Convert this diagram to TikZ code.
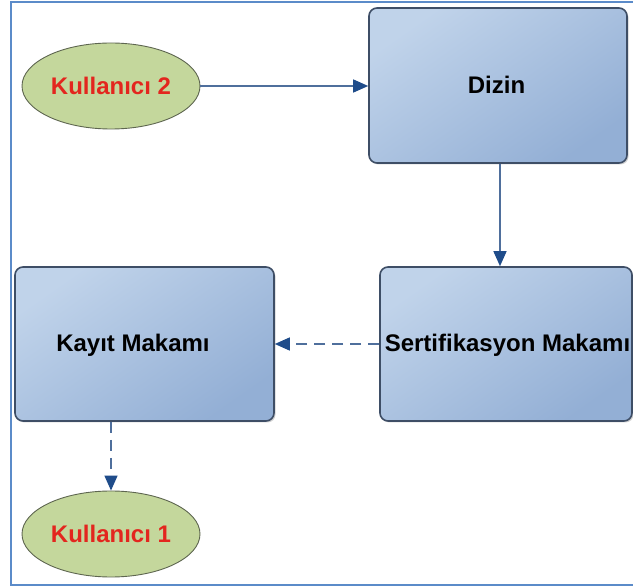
\documentclass[tikz,border=0pt]{standalone}
\usepackage{fontspec}
\setmainfont{Liberation Sans}
\usetikzlibrary{shapes.geometric,arrows.meta,shadows}

\definecolor{frameblue}{HTML}{5B8BC9}
\definecolor{boxlight}{HTML}{C0D3EA}
\definecolor{boxdark}{HTML}{93AFD5}
\definecolor{boxedge}{HTML}{3E4E66}
\definecolor{ovalfill}{HTML}{C4D79C}
\definecolor{ovaledge}{HTML}{5E6650}
\definecolor{labelred}{HTML}{E3261E}
\definecolor{linkline}{HTML}{4F6F9C}
\definecolor{tipblue}{HTML}{1F4C8A}

\tikzset{
  boxnode/.style={draw=boxedge, line width=1.6pt, rounded corners=8pt,
    top color=boxlight, bottom color=boxdark, shading angle=35,
    drop shadow={shadow xshift=1.5pt, shadow yshift=-1.5pt, opacity=0.35},
    inner sep=0pt},
  boxlabel/.style={font=\fontsize{24}{28}\selectfont\bfseries, text=black, inner sep=0pt},
  usernode/.style={ellipse, draw=ovaledge, line width=0.9pt, fill=ovalfill,
    minimum width=178pt, minimum height=86pt, inner sep=0pt,
    font=\fontsize{24}{28}\selectfont\bfseries, text=labelred},
  link/.style={draw=linkline, line width=1.4pt,
    -{Triangle[length=15pt, width=13pt, fill=tipblue, color=tipblue]}},
  dashlink/.style={link, dash pattern=on 11pt off 7pt}
}

\begin{document}
\begin{tikzpicture}[x=1pt, y=-1pt]
  \useasboundingbox (0,0) rectangle (633,588);
  \fill[white] (0,0) rectangle (633,588);

  % outer frame, open on the right
  \draw[frameblue, line width=2.4pt] (640,2) -- (11,2) -- (11,585) -- (640,585);

  % boxes
  \node[boxnode, minimum width=258pt, minimum height=155pt] (dizin) at (498,85.5) {};
  \node[boxnode, minimum width=252pt, minimum height=154pt] (sert) at (506,344) {};
  \node[boxnode, minimum width=259pt, minimum height=154pt] (kayit) at (144.5,344) {};

  % box labels
  \node[boxlabel] (dizintext) at (496.5,85) {Dizin};
  \node[boxlabel] (serttext) at (507.5,345) {Sertifikasyon Makamı};
  \node[boxlabel] (kayittext) at (133,345) {Kayıt Makamı};

  % users
  \node[usernode] (k2) at (111,86) {Kullanıcı 2};
  \node[usernode] (k1) at (111,534) {Kullanıcı 1};

  % connectors
  \draw[link] (k2.east) -- (dizin.west |- k2.east);
  \draw[link] (dizin.south -| 500,0) -- (sert.north -| 500,0);
  \draw[dashlink] (sert.west) -- (kayit.east);
  \draw[dashlink] (kayit.south -| k1.north) -- (k1.north);
\end{tikzpicture}
\end{document}
